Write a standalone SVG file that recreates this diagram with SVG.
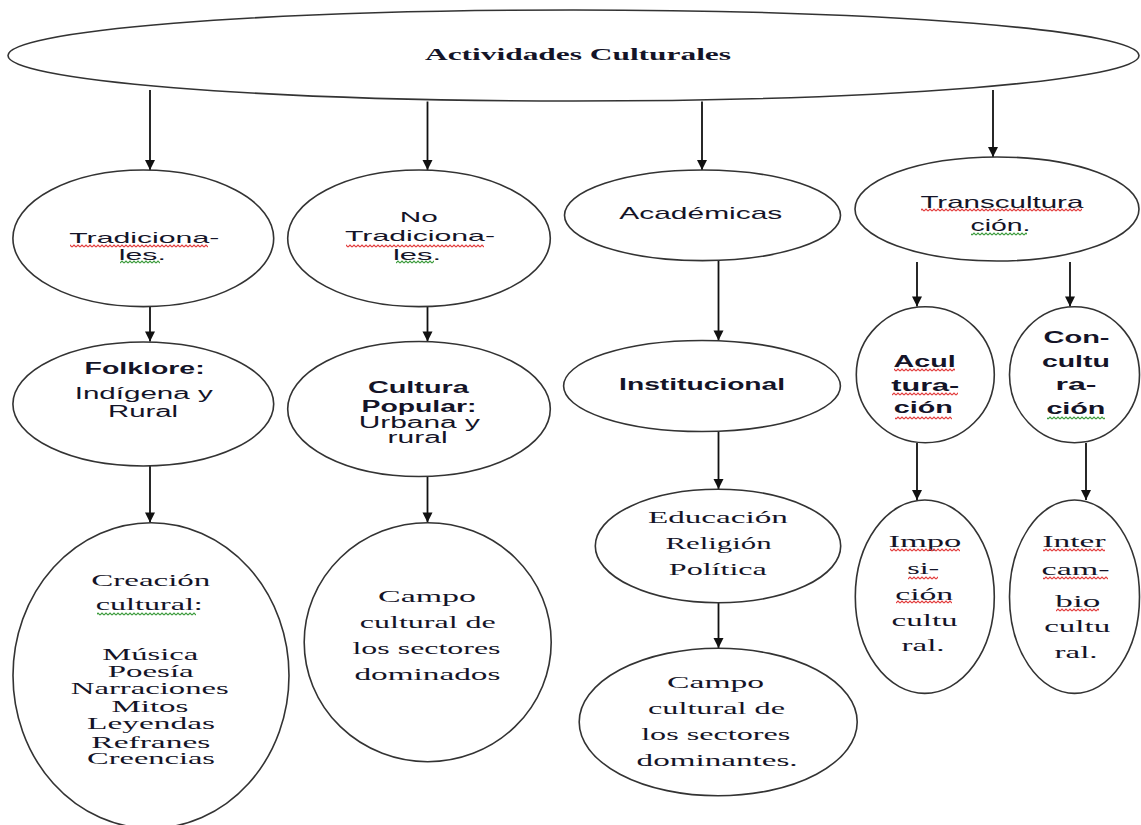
<svg xmlns="http://www.w3.org/2000/svg" width="1141" height="825" viewBox="0 0 1141 825">
<style>
.nd{fill:#fff;stroke:#333;stroke-width:1.6}
.cn{stroke:#111;stroke-width:1.8;fill:none;marker-end:url(#ah)}
text{text-anchor:middle;fill:#141428}
.sr{font-family:"Liberation Serif","Times New Roman",serif;font-size:16px}
.sb{font-family:"Liberation Serif","Times New Roman",serif;font-size:16px;font-weight:bold}
.ss{font-family:"Liberation Sans",Arial,sans-serif;font-size:16px}
.sst{font-family:"Liberation Sans",Arial,sans-serif;font-size:15px}
.ssl{font-family:"Liberation Sans",Arial,sans-serif;font-size:17px}
.ssb{font-family:"Liberation Sans",Arial,sans-serif;font-size:16px;font-weight:bold}
.wr{fill:url(#sqR)}
.wg{fill:url(#sqG)}
</style>
<defs>
<marker id="ah" markerUnits="userSpaceOnUse" markerWidth="12" markerHeight="12" viewBox="0 0 12 12" refX="11" refY="6" orient="auto">
<path d="M1,1 L11,6 L1,11 Z" fill="#111"/>
</marker>
<pattern id="sqR" width="4" height="4" patternUnits="userSpaceOnUse">
<path d="M0,3 L2,1 L4,3" fill="none" stroke="#e23a3a" stroke-width="1.1"/>
</pattern>
<pattern id="sqG" width="4" height="4" patternUnits="userSpaceOnUse">
<path d="M0,3 L2,1 L4,3" fill="none" stroke="#3a9a3a" stroke-width="1.1"/>
</pattern>
</defs>
<rect width="1141" height="825" fill="#fff"/>

<g id="connectors">
<line class="cn" x1="150" y1="90" x2="150" y2="170"/>
<line class="cn" x1="427.5" y1="101.5" x2="427.5" y2="170"/>
<line class="cn" x1="702" y1="101.5" x2="702" y2="170"/>
<line class="cn" x1="993" y1="90" x2="993" y2="157"/>
<line class="cn" x1="150" y1="307" x2="150" y2="341.5"/>
<line class="cn" x1="427.5" y1="307" x2="427.5" y2="341.5"/>
<line class="cn" x1="718.5" y1="261" x2="718.5" y2="340.5"/>
<line class="cn" x1="917" y1="262" x2="917" y2="306.5"/>
<line class="cn" x1="1070" y1="262" x2="1070" y2="306.5"/>
<line class="cn" x1="150" y1="466" x2="150" y2="522.5"/>
<line class="cn" x1="427.5" y1="477" x2="427.5" y2="522.5"/>
<line class="cn" x1="718.5" y1="432" x2="718.5" y2="489"/>
<line class="cn" x1="917" y1="443" x2="917" y2="500"/>
<line class="cn" x1="1086" y1="443" x2="1086" y2="500"/>
<line class="cn" x1="718.5" y1="603" x2="718.5" y2="648"/>
</g>

<g id="actividades">
<ellipse class="nd" cx="573.5" cy="55.5" rx="565.5" ry="45.5"/>
<text class="sb" x="578" y="60" textLength="306" lengthAdjust="spacingAndGlyphs">Actividades Culturales</text>
</g>

<g id="tradicionales">
<ellipse class="nd" cx="143.3" cy="238.3" rx="130.4" ry="68.3"/>
<text class="sst" x="144.3" y="242.7" textLength="150" lengthAdjust="spacingAndGlyphs">Tradiciona-</text>
<text class="sst" x="142.3" y="260" textLength="47" lengthAdjust="spacingAndGlyphs">les.</text>
<rect class="wr" x="70" y="244" width="138" height="4"/>
<rect class="wg" x="120" y="260" width="40" height="4"/>
</g>

<g id="no-tradicionales">
<ellipse class="nd" cx="419" cy="238.3" rx="131.3" ry="68.3"/>
<text class="sst" x="418.7" y="222.3" textLength="38" lengthAdjust="spacingAndGlyphs">No</text>
<text class="sst" x="420" y="241" textLength="150" lengthAdjust="spacingAndGlyphs">Tradiciona-</text>
<text class="sst" x="417" y="260" textLength="48" lengthAdjust="spacingAndGlyphs">les.</text>
<rect class="wr" x="346" y="244" width="138" height="4"/>
<rect class="wg" x="396" y="260" width="38" height="4"/>
</g>

<g id="academicas">
<ellipse class="nd" cx="702.5" cy="215.3" rx="138" ry="45.3"/>
<text class="ssl" x="700.8" y="219" textLength="163" lengthAdjust="spacingAndGlyphs">Académicas</text>
</g>

<g id="transculturacion">
<ellipse class="nd" cx="997" cy="209" rx="142" ry="52"/>
<text class="ssl" x="1001.9" y="208.3" textLength="163" lengthAdjust="spacingAndGlyphs">Transcultura</text>
<text class="ssl" x="1000.5" y="230.7" textLength="60" lengthAdjust="spacingAndGlyphs">ción.</text>
<rect class="wr" x="921" y="208" width="161" height="4"/>
<rect class="wg" x="971" y="232" width="56" height="4"/>
</g>

<g id="folklore">
<ellipse class="nd" cx="143.3" cy="404" rx="130.4" ry="62"/>
<text class="ssb" x="144.6" y="374.3" textLength="120" lengthAdjust="spacingAndGlyphs">Folklore:</text>
<text class="ss" x="143.7" y="399.3" textLength="138" lengthAdjust="spacingAndGlyphs">Indígena y</text>
<text class="ss" x="143" y="417.3" textLength="70" lengthAdjust="spacingAndGlyphs">Rural</text>
</g>

<g id="cultura-popular">
<ellipse class="nd" cx="419" cy="409" rx="131.3" ry="67.5"/>
<text class="ssb" x="418.4" y="392.7" textLength="101" lengthAdjust="spacingAndGlyphs">Cultura</text>
<text class="ssb" x="419" y="411.7" textLength="115" lengthAdjust="spacingAndGlyphs">Popular:</text>
<text class="ss" x="419.3" y="427.7" textLength="121" lengthAdjust="spacingAndGlyphs">Urbana y</text>
<text class="ss" x="417.6" y="442.7" textLength="60" lengthAdjust="spacingAndGlyphs">rural</text>
</g>

<g id="institucional">
<ellipse class="nd" cx="702" cy="386" rx="138.4" ry="45.5"/>
<text class="ssb" x="702.1" y="390" textLength="166" lengthAdjust="spacingAndGlyphs">Institucional</text>
</g>

<g id="aculturacion">
<ellipse class="nd" cx="925.3" cy="374.7" rx="69" ry="68"/>
<text class="ssb" x="924.6" y="366.7" textLength="62" lengthAdjust="spacingAndGlyphs">Acul</text>
<text class="ssb" x="925.3" y="391" textLength="68" lengthAdjust="spacingAndGlyphs">tura-</text>
<text class="ssb" x="923.3" y="413.3" textLength="59" lengthAdjust="spacingAndGlyphs">ción</text>
<rect class="wr" x="894" y="368" width="61" height="4"/>
<rect class="wr" x="892" y="392" width="66" height="4"/>
<rect class="wr" x="895" y="416" width="57" height="4"/>
</g>

<g id="conculturacion">
<ellipse class="nd" cx="1074.5" cy="374.7" rx="65" ry="68"/>
<text class="ssb" x="1076.5" y="342.7" textLength="66" lengthAdjust="spacingAndGlyphs">Con-</text>
<text class="ssb" x="1075.9" y="366.7" textLength="68" lengthAdjust="spacingAndGlyphs">cultu</text>
<text class="ssb" x="1076" y="390" textLength="41" lengthAdjust="spacingAndGlyphs">ra-</text>
<text class="ssb" x="1075.9" y="414" textLength="59" lengthAdjust="spacingAndGlyphs">ción</text>
<rect class="wg" x="1047" y="416" width="58" height="4"/>
</g>

<g id="creacion-cultural">
<ellipse class="nd" cx="151" cy="675.5" rx="138" ry="152.8"/>
<text class="sr" x="150.8" y="586" textLength="119" lengthAdjust="spacingAndGlyphs">Creación</text>
<text class="sr" x="149.3" y="610" textLength="107" lengthAdjust="spacingAndGlyphs">cultural:</text>
<text class="sr" x="150.2" y="660" textLength="96" lengthAdjust="spacingAndGlyphs">Música</text>
<text class="sr" x="150.7" y="677.3" textLength="86" lengthAdjust="spacingAndGlyphs">Poesía</text>
<text class="sr" x="149.8" y="694.3" textLength="158" lengthAdjust="spacingAndGlyphs">Narraciones</text>
<text class="sr" x="149.9" y="712.3" textLength="77" lengthAdjust="spacingAndGlyphs">Mitos</text>
<text class="sr" x="151" y="729.3" textLength="128" lengthAdjust="spacingAndGlyphs">Leyendas</text>
<text class="sr" x="150.8" y="747.7" textLength="119" lengthAdjust="spacingAndGlyphs">Refranes</text>
<text class="sr" x="151" y="764" textLength="128" lengthAdjust="spacingAndGlyphs">Creencias</text>
<rect class="wg" x="97" y="612" width="99" height="4"/>
</g>

<g id="campo-dominados">
<ellipse class="nd" cx="427.7" cy="642.2" rx="123.5" ry="119.5"/>
<text class="sr" x="427" y="601.7" textLength="98" lengthAdjust="spacingAndGlyphs">Campo</text>
<text class="sr" x="427.8" y="628.3" textLength="136" lengthAdjust="spacingAndGlyphs">cultural de</text>
<text class="sr" x="426.5" y="654" textLength="148" lengthAdjust="spacingAndGlyphs">los sectores</text>
<text class="sr" x="427.4" y="680" textLength="146" lengthAdjust="spacingAndGlyphs">dominados</text>
</g>

<g id="educacion">
<ellipse class="nd" cx="718" cy="546" rx="122.7" ry="56.7"/>
<text class="sr" x="717.9" y="523.3" textLength="140" lengthAdjust="spacingAndGlyphs">Educación</text>
<text class="sr" x="718.6" y="549.3" textLength="106" lengthAdjust="spacingAndGlyphs">Religión</text>
<text class="sr" x="717.8" y="575" textLength="98" lengthAdjust="spacingAndGlyphs">Política</text>
</g>

<g id="campo-dominantes">
<ellipse class="nd" cx="718.2" cy="722" rx="139" ry="73.8"/>
<text class="sr" x="715.6" y="688.3" textLength="97" lengthAdjust="spacingAndGlyphs">Campo</text>
<text class="sr" x="716.5" y="714" textLength="137" lengthAdjust="spacingAndGlyphs">cultural de</text>
<text class="sr" x="715.7" y="740" textLength="149" lengthAdjust="spacingAndGlyphs">los sectores</text>
<text class="sr" x="717.1" y="766" textLength="161" lengthAdjust="spacingAndGlyphs">dominantes.</text>
</g>

<g id="imposicion">
<ellipse class="nd" cx="924.8" cy="596.7" rx="69.5" ry="96.7"/>
<text class="sr" x="924.9" y="547.3" textLength="73" lengthAdjust="spacingAndGlyphs">Impo</text>
<text class="sr" x="923.2" y="574" textLength="32" lengthAdjust="spacingAndGlyphs">si-</text>
<text class="sr" x="924.2" y="600" textLength="58" lengthAdjust="spacingAndGlyphs">ción</text>
<text class="sr" x="924.6" y="625.7" textLength="66" lengthAdjust="spacingAndGlyphs">cultu</text>
<text class="sr" x="923.1" y="651" textLength="43" lengthAdjust="spacingAndGlyphs">ral.</text>
<rect class="wr" x="890" y="548" width="70" height="4"/>
<rect class="wr" x="908" y="576" width="30" height="4"/>
<rect class="wr" x="896" y="600" width="56" height="4"/>
</g>

<g id="intercambio">
<ellipse class="nd" cx="1074.5" cy="596.7" rx="65" ry="96.7"/>
<text class="sr" x="1074" y="547.3" textLength="63" lengthAdjust="spacingAndGlyphs">Inter</text>
<text class="sr" x="1075.6" y="575" textLength="68" lengthAdjust="spacingAndGlyphs">cam-</text>
<text class="sr" x="1077.8" y="606.7" textLength="45" lengthAdjust="spacingAndGlyphs">bio</text>
<text class="sr" x="1077.2" y="632.3" textLength="66" lengthAdjust="spacingAndGlyphs">cultu</text>
<text class="sr" x="1076.1" y="657.7" textLength="43" lengthAdjust="spacingAndGlyphs">ral.</text>
<rect class="wr" x="1043" y="548" width="62" height="4"/>
<rect class="wr" x="1043" y="576" width="65" height="4"/>
<rect class="wr" x="1056" y="608" width="43" height="4"/>
</g>
</svg>
